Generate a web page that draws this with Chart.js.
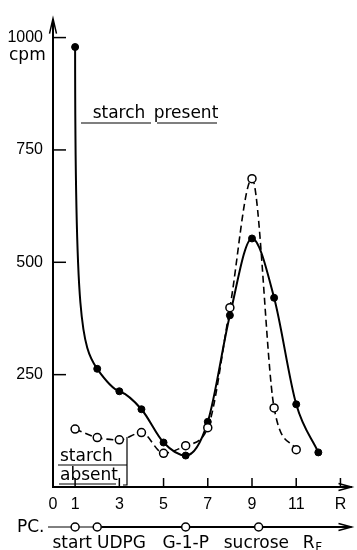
<!DOCTYPE html>
<html>
<head>
<meta charset="utf-8">
<script src="https://cdn.jsdelivr.net/npm/chart.js@4"></script>
<style>
html, body { margin: 0; padding: 0; background: #fff; }
canvas { display: block; }
</style>
</head>
<body>
<canvas id="chart" width="357" height="550"></canvas>
<script>
// fraction number along the strip
const positions = [1, 2, 3, 4, 5, 6, 7, 8, 9, 10, 11, 12];
// cpm, starch present (filled dots, solid line)
const starchPresent = [979, 263, 213, 173, 99, 70, 145, 382, 553, 421, 184, 77];
// cpm, starch absent (open dots, dashed line)
const starchAbsent = [129, 110, 105, 121, 75, 92, 132, 399, 686, 176, 83];
const xTicks = [0, 1, 3, 5, 7, 9, 11, 13];
const yTicks = [250, 500, 750, 1000];
// paper chromatography markers
const pcSpots = [1, 2, 6, 9.3];
const pcLabels = ['start', 'UDPG', 'G-1-P', 'sucrose', 'R'];
const pcLabelPos = [0.87, 3.1, 6.0, 9.2, 11.7];

const numFont = { family: '"Liberation Sans", Arial, sans-serif', size: 16 };
const textFont = '17px "DejaVu Sans", sans-serif';

function pts(ys) {
  return ys.map((y, i) => ({ x: positions[i], y: y }));
}

const decorations = {
  id: 'decorations',
  beforeDatasetDraw(chart, args) {
    if (args.index !== 1) return;
    const meta = args.meta;
    meta.dataset.updateControlPoints(chart.chartArea, 'x');
    const p = meta.data;
    const p0 = p[0], p1 = p[1], p2 = p[2];
    // steep fall after the first fraction, then bend over
    const s = 1.4 * (p2.y - p1.y) / (p2.x - p1.x);
    const dx = p1.x - p0.x, dx2 = p2.x - p1.x;
    p0.cp2x = p0.x;
    p0.cp2y = p0.y + 0.85 * (p1.y - p0.y);
    p1.cp1x = p1.x - 0.7 * dx;
    p1.cp1y = p1.y - 0.7 * dx * s;
    p1.cp2x = p1.x + dx2 / 3;
    p1.cp2y = p1.y + dx2 / 3 * s;
  },
  afterDraw(chart) {
    const ctx = chart.ctx;
    const xs = chart.scales.x, ys = chart.scales.y;
    const { left, right, top, bottom } = chart.chartArea;
    ctx.save();
    ctx.strokeStyle = '#000';
    ctx.fillStyle = '#000';
    ctx.lineCap = 'butt';

    // arrows
    ctx.lineWidth = 1.5;
    ctx.beginPath();
    ctx.moveTo(left - 3.5, top + 14);
    ctx.lineTo(left, top - 1);
    ctx.lineTo(left + 3.5, top + 14);
    ctx.stroke();
    ctx.beginPath();
    ctx.moveTo(right - 13, bottom - 3.5);
    ctx.lineTo(right, bottom);
    ctx.lineTo(right - 13, bottom + 3.5);
    ctx.stroke();

    // inner ticks
    xTicks.forEach(v => {
      if (v === 0) return;
      const x = xs.getPixelForValue(v);
      ctx.beginPath();
      ctx.moveTo(x, bottom);
      ctx.lineTo(x, bottom - 9);
      ctx.stroke();
    });
    yTicks.forEach(v => {
      const y = ys.getPixelForValue(v);
      ctx.beginPath();
      ctx.moveTo(left, y);
      ctx.lineTo(left + 13, y);
      ctx.stroke();
    });

    ctx.font = textFont;
    ctx.textBaseline = 'alphabetic';
    ctx.textAlign = 'left';
    ctx.fillText('cpm', 9, 60);

    // starch present
    ctx.textAlign = 'center';
    ctx.fillText('starch', 119, 118);
    ctx.fillText('present', 186, 118);
    ctx.lineWidth = 1.2;
    ctx.beginPath();
    ctx.moveTo(81, 123); ctx.lineTo(151, 123);
    ctx.moveTo(157, 123); ctx.lineTo(217, 123);
    ctx.stroke();

    // starch absent
    ctx.textAlign = 'left';
    ctx.fillText('starch', 60, 461);
    ctx.fillText('absent', 60, 480);
    ctx.beginPath();
    ctx.moveTo(58, 465); ctx.lineTo(127, 465);
    ctx.moveTo(59, 484); ctx.lineTo(116, 484);
    ctx.moveTo(127, 437); ctx.lineTo(127, 485);
    ctx.lineTo(123, 485);
    ctx.stroke();

    // PC strip
    const yPc = 527;
    ctx.textAlign = 'left';
    ctx.fillText('PC.', 17, 532);
    ctx.lineWidth = 1;
    ctx.beginPath();
    ctx.moveTo(48, yPc); ctx.lineTo(xs.getPixelForValue(2.2), yPc);
    ctx.stroke();
    ctx.lineWidth = 1.8;
    ctx.beginPath();
    ctx.moveTo(xs.getPixelForValue(2.2), yPc); ctx.lineTo(right, yPc);
    ctx.stroke();
    ctx.lineWidth = 1.5;
    ctx.beginPath();
    ctx.moveTo(right - 13, yPc - 3.5);
    ctx.lineTo(right, yPc);
    ctx.lineTo(right - 13, yPc + 3.5);
    ctx.stroke();
    pcSpots.forEach(v => {
      ctx.beginPath();
      ctx.arc(xs.getPixelForValue(v), yPc, 4, 0, Math.PI * 2);
      ctx.fillStyle = '#fff';
      ctx.fill();
      ctx.stroke();
    });
    ctx.fillStyle = '#000';
    ctx.textAlign = 'center';
    pcLabels.forEach((t, i) => {
      const x = xs.getPixelForValue(pcLabelPos[i]);
      if (t === 'R') {
        ctx.fillText('R', x - 3, 548);
        ctx.font = '12px "DejaVu Sans", sans-serif';
        ctx.fillText('F', x + 7, 551);
        ctx.font = textFont;
      } else {
        ctx.fillText(t, x, 548);
      }
    });
    ctx.restore();
  }
};

new Chart(document.getElementById('chart'), {
  type: 'line',
  data: {
    datasets: [
      {
        label: 'starch absent',
        data: pts(starchAbsent),
        borderColor: '#000',
        borderWidth: 1.6,
        borderDash: [7, 4],
        cubicInterpolationMode: 'monotone',
        pointRadius: 4,
        pointBackgroundColor: '#fff',
        pointBorderColor: '#000',
        pointBorderWidth: 1.5,
        fill: false
      },
      {
        label: 'starch present',
        data: pts(starchPresent),
        borderColor: '#000',
        borderWidth: 2,
        cubicInterpolationMode: 'monotone',
        pointRadius: 3.5,
        pointBackgroundColor: '#000',
        pointBorderColor: '#000',
        pointBorderWidth: 1,
        fill: false
      }
    ]
  },
  options: {
    responsive: false,
    animation: false,
    layout: { padding: { top: 13, right: 0, left: 0, bottom: 0 } },
    plugins: { legend: { display: false }, tooltip: { enabled: false } },
    scales: {
      x: {
        type: 'linear',
        min: 0,
        max: 13.5,
        grid: { display: false, drawTicks: false },
        border: { display: true, color: '#000', width: 2 },
        afterBuildTicks: s => { s.ticks = xTicks.map(v => ({ value: v })); },
        afterFit: s => { s.height = 63; },
        ticks: {
          color: '#000',
          font: numFont,
          padding: 8,
          maxRotation: 0,
          autoSkip: false,
          callback: v => (v === 13 ? 'R' : String(v))
        }
      },
      y: {
        min: 0,
        max: 1040,
        grid: { display: false, drawTicks: false },
        border: { display: true, color: '#000', width: 2 },
        afterBuildTicks: s => { s.ticks = yTicks.map(v => ({ value: v })); },
        afterFit: s => { s.width = 53; },
        ticks: {
          color: '#000',
          font: numFont,
          padding: 10,
          autoSkip: false,
          callback: v => String(v)
        }
      }
    }
  },
  plugins: [decorations]
});
</script>
</body>
</html>
